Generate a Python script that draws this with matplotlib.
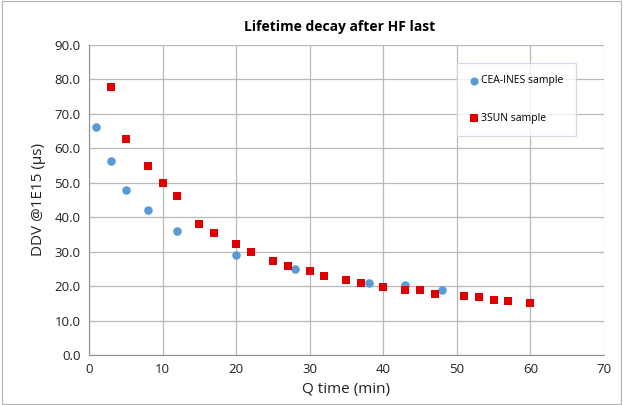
import numpy as np
import matplotlib.pyplot as plt

# CEA-INES sample
cea_t = [1, 3, 5, 8, 12, 20, 28, 38, 43, 48]
cea_v = [66.3, 56.2, 48.0, 42.0, 36.0, 29.0, 25.0, 21.0, 20.2, 19.0]

# 3SUN sample
sun_t = [3, 5, 8, 10, 12, 15, 17, 20, 22, 25, 27, 30, 32, 35, 37, 40, 43, 45, 47, 51, 53, 55, 57, 60]
sun_v = [77.8, 62.8, 54.8, 50.0, 46.2, 38.0, 35.5, 32.3, 29.9, 27.3, 25.8, 24.3, 23.0, 21.7, 20.8,
         19.8, 18.8, 19.0, 17.7, 17.0, 16.7, 16.1, 15.6, 15.2]

xticks = np.arange(0, 71, 10)
yticks = np.arange(0, 91, 10)

plt.rcParams['font.family'] = ['Open Sans', 'DejaVu Sans']

fig = plt.figure(figsize=(6.23, 4.05), dpi=100)
ax = fig.add_axes([89 / 623, 1 - 355 / 405, (604 - 89) / 623, (355 - 45) / 405])

ax.scatter(cea_t, cea_v, marker='o', s=38, color='#5b9bd5', label='CEA-INES sample', zorder=3, linewidths=0)
ax.scatter(sun_t, sun_v, marker='s', s=34, color='#e00000', label='3SUN sample', zorder=3, linewidths=0)

ax.set_xlim(0, 70)
ax.set_ylim(0, 90)
ax.set_xticks(xticks)
ax.set_yticks(yticks)
ax.set_yticklabels([f'{v:.1f}' for v in yticks])
ax.grid(True, color='#b8b8b8', linewidth=0.9)
ax.set_axisbelow(True)
ax.tick_params(length=0, labelsize=9.5, colors='#222222', pad=6)

for side in ['top', 'right']:
    ax.spines[side].set_visible(False)
for side in ['left', 'bottom']:
    ax.spines[side].set_color('#909090')

ax.set_xlabel('Q time (min)', fontsize=11, color='#222222', labelpad=4)
ax.set_ylabel('DDV @1E15 (µs)', fontsize=11, color='#222222', labelpad=6)
fig.text(340 / 623, 1 - 27 / 405, 'Lifetime decay after HF last', fontsize=10,
         fontweight='bold', ha='center', va='center')

leg = ax.legend(loc='upper left', bbox_to_anchor=((457 - 89) / 515, (355 - 63) / 310),
                borderaxespad=0, frameon=True, fancybox=False, fontsize=7.5,
                handletextpad=0.25, labelspacing=2.5, borderpad=1.2, markerscale=0.95,
                handlelength=0.9, handleheight=0.7)
leg.get_frame().set_edgecolor('#c8d4e0')
leg.get_frame().set_linewidth(0.9)

# outer chart border
fig.patches.append(plt.Rectangle((0.003, 0.003), 0.994, 0.994, transform=fig.transFigure,
                                 fill=False, edgecolor='#b0b0b0', linewidth=0.8))

fig.savefig('out.png', dpi=100)
